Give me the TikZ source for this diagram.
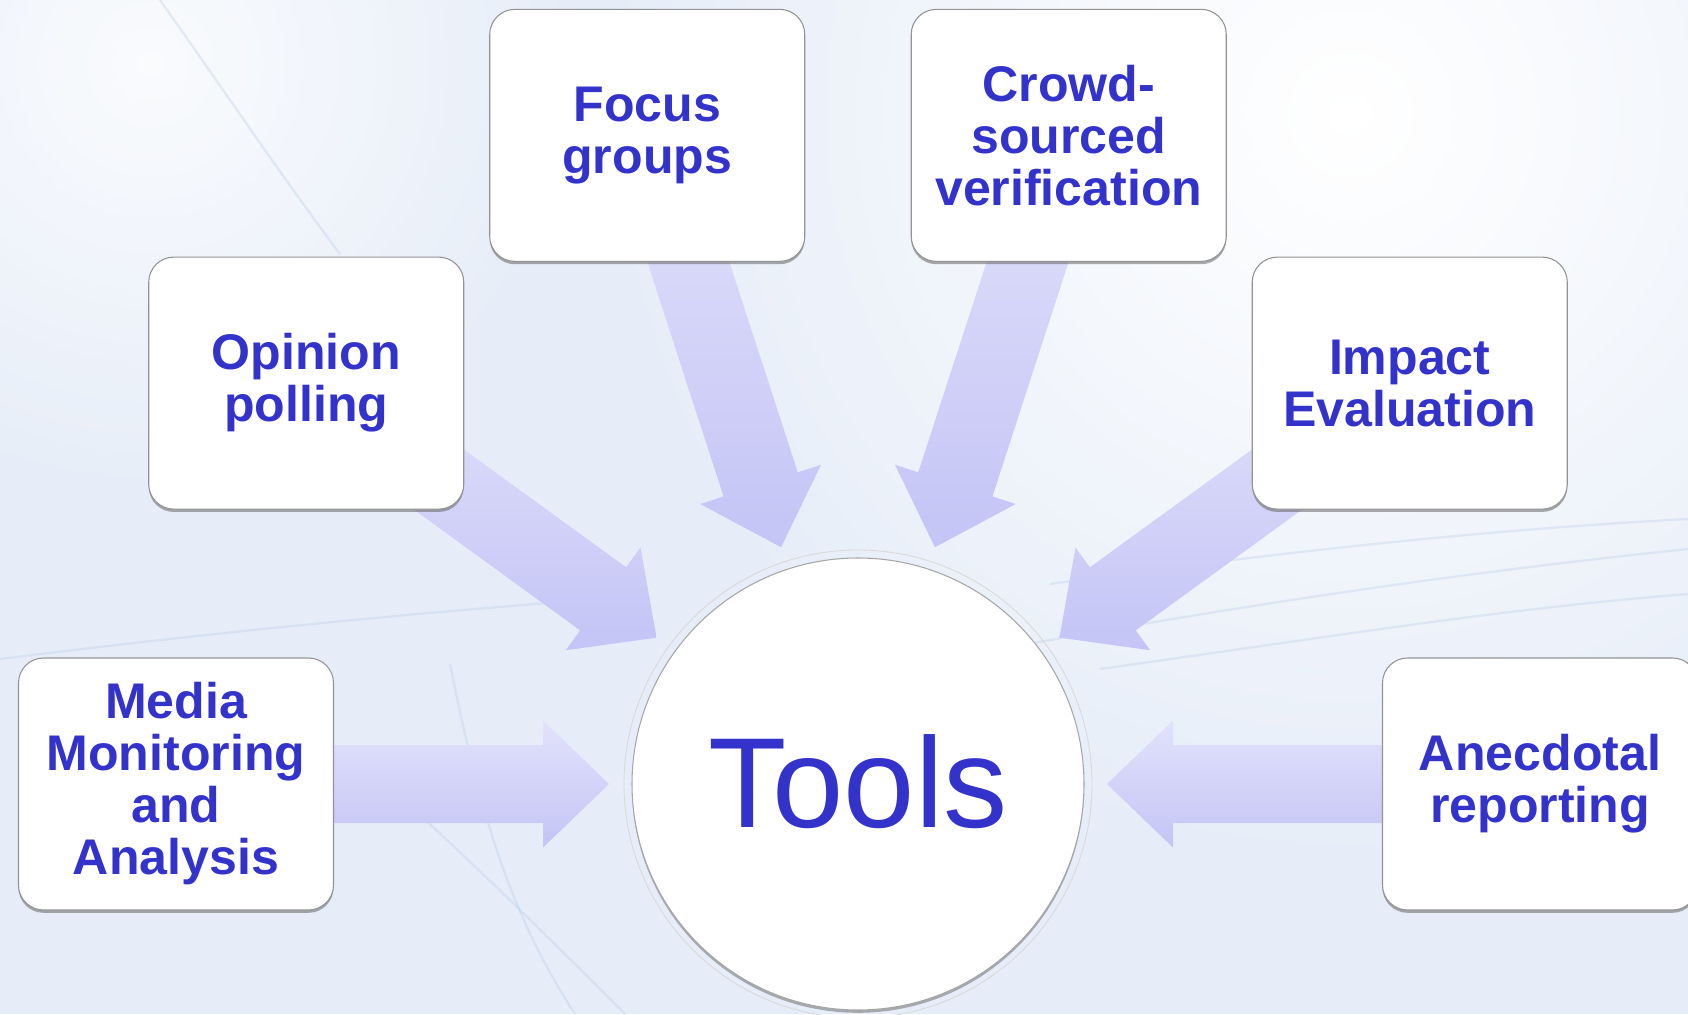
\documentclass[tikz,border=0pt]{standalone}
\usepackage{fontspec}
\setmainfont{Liberation Sans}
\usetikzlibrary{calc,shadows,backgrounds}

\definecolor{toolblue}{HTML}{3333CC}
\definecolor{arrowtop}{HTML}{E2E2FB}
\definecolor{arrowbot}{HTML}{C4C4F6}
\definecolor{bgbase}{HTML}{E6EDF8}
\definecolor{bgline}{HTML}{BCCDE8}

\tikzset{
    toolbox/.style={draw=gray!85, line width=0.6pt, fill=white, rounded corners=0.5cm,
        minimum width=6.3cm, minimum height=5.04cm, align=center, text=toolblue,
        font=\bfseries\fontsize{28.5}{29.6}\selectfont,
        drop shadow={shadow xshift=0pt, shadow yshift=-1.6pt, opacity=0.55, fill=black!60}},
    hub/.style={circle, draw=gray!70, line width=0.6pt, fill=white, minimum size=9.04cm,
        text=toolblue, font=\fontsize{73}{73}\selectfont,
        drop shadow={shadow xshift=0pt, shadow yshift=-1.6pt, opacity=0.5, fill=black!60}},
    fatarrow/.style={top color=arrowtop, bottom color=arrowbot},
    streak/.style={draw=bgline, line width=1.3pt, opacity=0.35}
}

\begin{document}
\begin{tikzpicture}
    \useasboundingbox (0,0) rectangle (33.76,20.28);
    \clip (0,0) rectangle (33.76,20.28);

    % paper
    \begin{scope}[on background layer]
        \fill[bgbase] (0,0) rectangle (33.76,20.28);
        \shade[inner color=white, outer color=bgbase] (27,18) circle (15);
        \shade[inner color=white, outer color=bgbase, opacity=0.8] (3,19) circle (9);
        \draw[streak] (3.2,20.28) .. controls (4.6,18.3) and (5.6,16.8) .. (6.8,15.2);
        \draw[streak] (0,7.1) .. controls (4,7.6) and (8,8.0) .. (12,8.3);
        \draw[streak] (20,7.3) .. controls (25,8.2) and (29,8.8) .. (33.76,9.3);
        \draw[streak] (21,8.6) .. controls (26,9.3) and (30,9.7) .. (33.76,9.9);
        \draw[streak] (22,6.9) .. controls (27,7.6) and (30,8.1) .. (33.76,8.4);
        \draw[streak] (7.5,4.8) .. controls (9.5,3) and (11,1.5) .. (12.5,0);
        \draw[streak] (9,7) .. controls (9.6,4) and (10.2,2) .. (11.5,0);
    \end{scope}

    \node[hub] (tools) at (17.16,4.6) {\raisebox{0.12cm}{Tools}};
    \draw[gray!30, line width=0.5pt] (tools) circle (4.68);

    \foreach \a/\n/\txt in {180/media/{Media\\Monitoring\\and\\Analysis},
                            144/opinion/{Opinion\\polling},
                            108/focus/{Focus\\groups},
                            72/crowd/{Crowd-\\sourced\\verification},
                            36/impact/{Impact\\Evaluation},
                            0/anecdote/{Anecdotal\\reporting}}
        \node[toolbox] (\n) at ($(tools)+(\a:13.64)$) {\txt};

    % block arrows, tucked under the boxes
    \begin{scope}[on background layer]
        \foreach \n in {media,opinion,focus,crowd,impact,anecdote} {
            \coordinate (hb) at ($(tools)!6.3cm!(\n)$);
            \path[fatarrow] ($(hb)!0.78cm!90:(\n)$) -- ($(\n)!0.78cm!-90:(tools)$)
                -- ($(\n)!0.78cm!90:(tools)$) -- ($(hb)!0.78cm!-90:(\n)$)
                -- ($(hb)!1.27cm!-90:(\n)$) -- ($(tools)!4.98cm!(\n)$)
                -- ($(hb)!1.27cm!90:(\n)$) -- cycle;
        }
    \end{scope}
\end{tikzpicture}
\end{document}
